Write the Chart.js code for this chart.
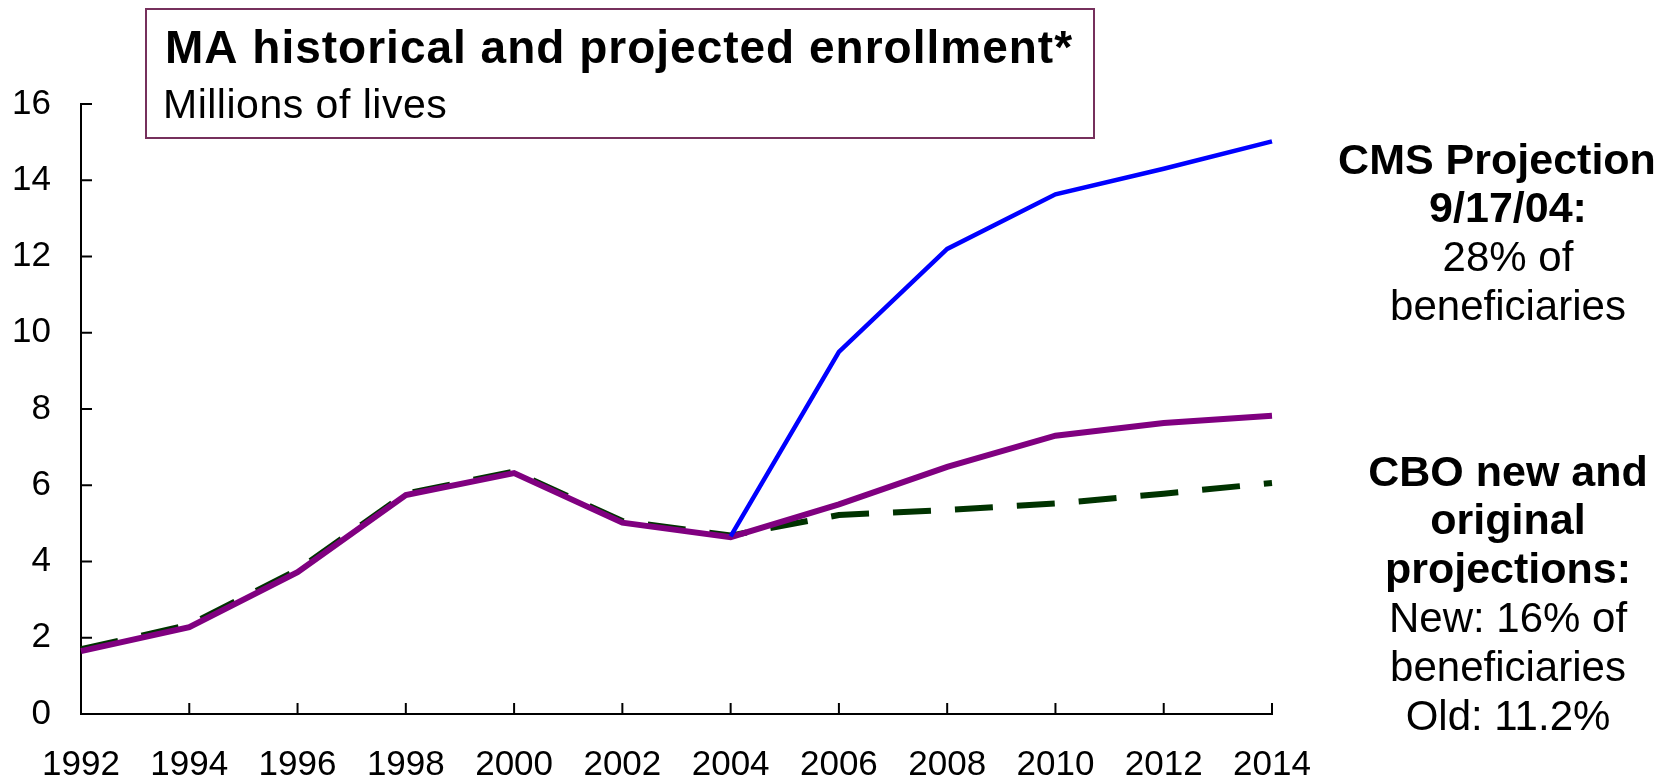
<!DOCTYPE html>
<html>
<head>
<meta charset="utf-8">
<script src="https://cdn.jsdelivr.net/npm/chart.js@4"></script>
<style>
  html, body { margin: 0; padding: 0; background: #fff; }
  #wrap { width: 1662px; height: 780px; }
</style>
</head>
<body>
<div id="wrap"><canvas id="line-chart"></canvas></div>
<script>
const years = ["1992", "1994", "1996", "1998", "2000", "2002", "2004", "2006", "2008", "2010", "2012", "2014"];
const cmsProjection = [null, null, null, null, null, null, 4.66, 9.5, 12.2, 13.63, 14.3, 15.02];
const cboNew = [1.65, 2.28, 3.72, 5.74, 6.32, 5.02, 4.64, 5.5, 6.48, 7.3, 7.63, 7.82];
const cboOriginal = [1.7, 2.34, 3.78, 5.78, 6.36, 5.06, 4.68, 5.22, 5.35, 5.52, 5.78, 6.06];
const yTicks = [0, 2, 4, 6, 8, 10, 12, 14, 16];

const FONT = "'Liberation Sans', Arial, sans-serif";

// inward tick marks + title box + side notes
const extras = {
  id: "extras",
  afterDraw(chart) {
    const ctx = chart.ctx;
    const x = chart.scales.x, y = chart.scales.y;
    const area = chart.chartArea;
    ctx.save();
    ctx.strokeStyle = "#000";
    ctx.lineWidth = 2;
    yTicks.forEach(v => {
      const py = y.getPixelForValue(v);
      ctx.beginPath(); ctx.moveTo(area.left, py); ctx.lineTo(area.left + 11, py); ctx.stroke();
    });
    years.forEach((yr, i) => {
      const px = x.getPixelForValue(i);
      ctx.beginPath(); ctx.moveTo(px, area.bottom); ctx.lineTo(px, area.bottom - 11); ctx.stroke();
    });

    // title box
    ctx.fillStyle = "#fff";
    ctx.fillRect(146, 9, 948, 129);
    ctx.strokeStyle = "#76305c";
    ctx.lineWidth = 2;
    ctx.strokeRect(146, 9, 948, 129);
    ctx.fillStyle = "#000";
    ctx.textAlign = "left";
    ctx.textBaseline = "alphabetic";
    ctx.letterSpacing = "1px";
    ctx.font = "bold 46px " + FONT;
    ctx.fillText("MA historical and projected enrollment*", 165, 63);
    ctx.letterSpacing = "0.5px";
    ctx.font = "41px " + FONT;
    ctx.fillText("Millions of lives", 163, 118);
    ctx.letterSpacing = "0px";

    // notes on the right
    ctx.textAlign = "center";
    const notes = [
      ["CMS Projection", true, 174, 1497],
      ["9/17/04:", true, 222, 1508],
      ["28% of", false, 271, 1508],
      ["beneficiaries", false, 320, 1508],
      ["CBO new and", true, 486, 1508],
      ["original", true, 534, 1508],
      ["projections:", true, 583, 1508],
      ["New: 16% of", false, 632, 1508],
      ["beneficiaries", false, 681, 1508],
      ["Old: 11.2%", false, 730, 1508],
    ];
    notes.forEach(([t, bold, by, bx]) => {
      ctx.font = (bold ? "bold 43px " : "42px ") + FONT;
      ctx.fillText(t, bx, by);
    });
    ctx.restore();
  },
};

new Chart(document.getElementById("line-chart"), {
  type: "line",
  data: {
    labels: years,
    datasets: [
      {
        label: "CBO original",
        data: cboOriginal,
        borderColor: "#003300",
        borderWidth: 6,
        borderDash: [38, 24],
        pointRadius: 0,
        tension: 0,
        order: 3,
      },
      {
        label: "CBO new",
        data: cboNew,
        borderColor: "#800080",
        borderWidth: 6,
        pointRadius: 0,
        tension: 0,
        order: 2,
      },
      {
        label: "CMS projection",
        data: cmsProjection,
        borderColor: "#0000ff",
        borderWidth: 4.5,
        pointRadius: 0,
        tension: 0,
        order: 1,
      },
    ],
  },
  options: {
    responsive: true,
    maintainAspectRatio: false,
    animation: false,
    layout: { padding: { top: 104, right: 390, left: 0, bottom: 0 } },
    plugins: {
      legend: { display: false },
      title: { display: false },
      tooltip: { enabled: false },
    },
    scales: {
      x: {
        offset: false,
        grid: { display: false, drawTicks: false },
        border: { color: "#000", width: 2 },
        ticks: {
          color: "#000",
          font: { family: FONT, size: 35 },
          padding: 30,
          maxRotation: 0,
          autoSkip: false,
        },
        afterFit(scale) { scale.height = 66; },
      },
      y: {
        min: 0,
        max: 16,
        grid: { display: false, drawTicks: false },
        border: { color: "#000", width: 2 },
        ticks: {
          stepSize: 2,
          color: "#000",
          font: { family: FONT, size: 35 },
          padding: 30,
        },
        afterFit(scale) { scale.width = 81; },
      },
    },
  },
  plugins: [extras],
});
</script>
</body>
</html>
